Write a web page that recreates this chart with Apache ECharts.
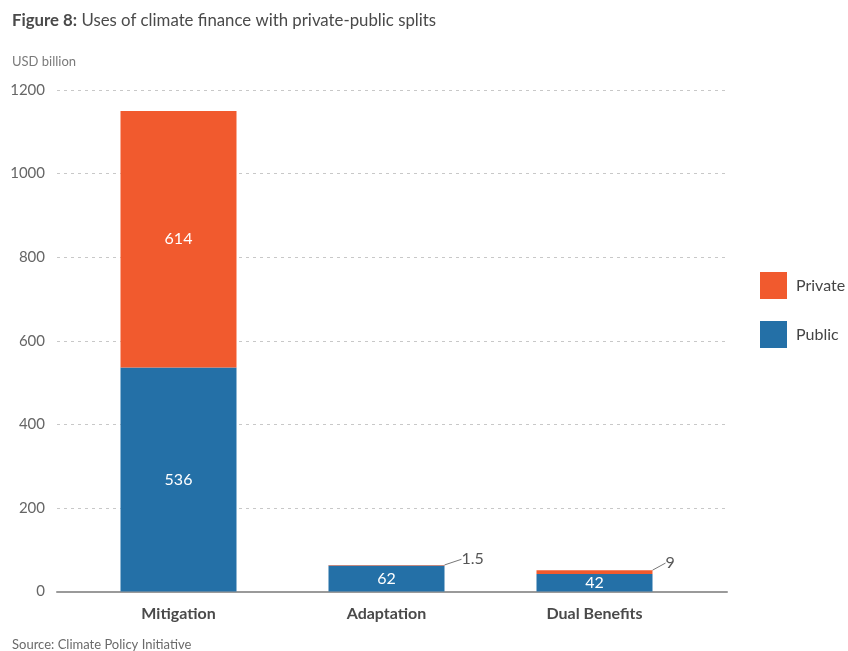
<!DOCTYPE html>
<html>
<head>
<meta charset="utf-8">
<script src="https://cdn.jsdelivr.net/npm/echarts@6/dist/echarts.min.js"></script>
<style>
  html, body { margin: 0; padding: 0; background: #fff; }
  #chart { width: 848px; height: 651px; }
</style>
</head>
<body>
<div id="chart"></div>
<script>
// Uses of climate finance, USD billion
const categories = ['Mitigation', 'Adaptation', 'Dual Benefits'];
const publicValues = [536, 62, 42];
const privateValues = [614, 1.5, 9];
const yTicks = [0, 200, 400, 600, 800, 1000, 1200];

const FONT = 'Lato, "Open Sans", sans-serif';
const BLUE = '#2470A7';
const ORANGE = '#F15A2E';

// labels of the thin private slices sit to the upper right with a leader line
const offsetLabels = { 1: { dx: 17, dy: -6 }, 2: { dx: 13, dy: -9 } };

const chart = echarts.init(document.getElementById('chart'), null, { renderer: 'canvas' });

chart.setOption({
  animation: false,
  title: {
    text: '{b|Figure 8:} Uses of climate finance with private-public splits',
    left: 12, top: 12, padding: 0,
    textStyle: {
      fontFamily: FONT, fontSize: 16.8, fontWeight: 'normal', color: '#4a4a4a',
      rich: { b: { fontFamily: FONT, fontSize: 16.8, fontWeight: 'bold', color: '#4a4a4a' } }
    }
  },
  graphic: [
    { type: 'text', left: 12, top: 55, style: { text: 'USD billion', font: '13px ' + FONT, fill: '#7a7a7a' } },
    { type: 'text', left: 12, top: 638, style: { text: 'Source: Climate Policy Initiative', font: '13px ' + FONT, fill: '#6a6a6a' } }
  ],
  legend: {
    data: ['Private', 'Public'],
    orient: 'vertical',
    left: 760, top: 272, padding: 0,
    icon: 'rect',
    itemWidth: 27, itemHeight: 27, itemGap: 22,
    textStyle: { fontFamily: FONT, fontSize: 16, color: '#444', padding: [2, 0, 0, 4] }
  },
  grid: [
    { left: 57, right: 121, top: 90, bottom: 59.5 },
    { left: 74.5, width: 624, top: 90, bottom: 59.5 }
  ],
  xAxis: [
    {
      gridIndex: 0, type: 'category', data: [''],
      axisLine: { show: true, lineStyle: { color: '#9a9a9a', width: 2 } },
      axisTick: { show: false }, axisLabel: { show: false }
    },
    {
      gridIndex: 1, type: 'category', data: categories,
      axisLine: { show: false }, axisTick: { show: false },
      axisLabel: { margin: 14, fontFamily: FONT, fontSize: 16, fontWeight: 'bold', color: '#4a4a4a' }
    }
  ],
  yAxis: [
    {
      gridIndex: 0, type: 'value', min: yTicks[0], max: yTicks[yTicks.length - 1], interval: 200,
      axisLine: { show: false }, axisTick: { show: false },
      axisLabel: {
        margin: 12, fontFamily: FONT, fontSize: 15, color: '#666',
        formatter: v => String(v)
      },
      splitLine: { show: true, lineStyle: { color: '#c8c8c8', type: [3, 4], width: 1 } }
    },
    {
      gridIndex: 1, type: 'value', min: yTicks[0], max: yTicks[yTicks.length - 1], interval: 200,
      show: false, splitLine: { show: false }
    }
  ],
  series: [
    {
      name: 'Public', type: 'bar', stack: 'total',
      xAxisIndex: 1, yAxisIndex: 1,
      barWidth: 116,
      itemStyle: { color: BLUE },
      label: {
        show: true, position: 'inside',
        fontFamily: FONT, fontSize: 16, color: '#fff'
      },
      data: publicValues
    },
    {
      name: 'Private', type: 'bar', stack: 'total',
      xAxisIndex: 1, yAxisIndex: 1,
      barWidth: 116,
      itemStyle: { color: ORANGE },
      data: privateValues.map((v, i) => {
        if (i === 0) {
          return { value: v, label: { show: true, position: 'inside', fontFamily: FONT, fontSize: 16, color: '#fff' } };
        }
        return {
          value: v,
          label: { show: true, position: 'right', distance: 0, fontFamily: FONT, fontSize: 16, color: '#555' },
          labelLine: { show: true, lineStyle: { color: '#777', width: 1 } }
        };
      }),
      labelLayout: function (params) {
        const o = offsetLabels[params.dataIndex];
        return o ? { dx: o.dx, dy: o.dy } : {};
      }
    }
  ]
});
</script>
</body>
</html>
